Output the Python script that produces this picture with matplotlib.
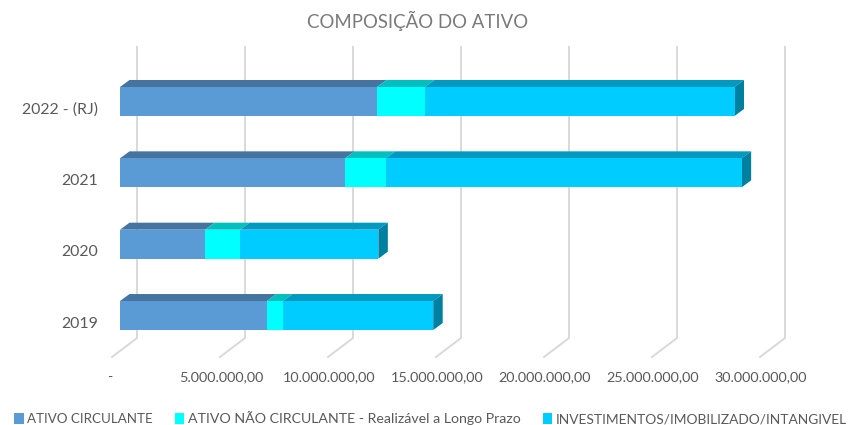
import matplotlib
matplotlib.use("Agg")
import matplotlib.pyplot as plt
from matplotlib.patches import Polygon, Patch
from matplotlib.transforms import ScaledTranslation

categories = ["2019", "2020", "2021", "2022 - (RJ)"]
circulante = [6.80e6, 3.94e6, 10.42e6, 11.90e6]
nao_circulante = [0.75e6, 1.62e6, 1.89e6, 2.22e6]
investimentos = [6.95e6, 6.40e6, 16.47e6, 14.33e6]
series_names = ["ATIVO CIRCULANTE", "ATIVO NÃO CIRCULANTE - Realizável a Longo Prazo",
                "INVESTIMENTOS/IMOBILIZADO/INTANGIVEL"]
xticks = [0, 5e6, 10e6, 15e6, 20e6, 25e6, 30e6]
xticklabels = ["-", "5.000.000,00", "10.000.000,00", "15.000.000,00",
               "20.000.000,00", "25.000.000,00", "30.000.000,00"]
title = "COMPOSIÇÃO DO ATIVO"

front = ["#5B9BD5", "#00FFFF", "#00CCFF"]
top = ["#4574A0", "#00BFBF", "#0099BF"]
side = "#0080A0"
FONT = "Lato"
TXT = "#595959"
W, H = 848, 425

fig = plt.figure(figsize=(W / 100, H / 100), dpi=100, facecolor="white")
ax = fig.add_axes([120 / W, 1 - 338 / H, 648 / W, 291 / H])
ax.set_xlim(0, 30e6)
ax.set_ylim(-0.315, 3.764)
for s in ax.spines.values():
    s.set_visible(False)
ax.patch.set_alpha(0)

px_x = 30e6 / 648
px_y = (3.764 + 0.315) / 291
bar_h = 29 * px_y
dx, dy = 9.5 * px_x, 7 * px_y

# gridlines: back wall and diagonal floor segment
for v in xticks:
    ax.plot([v + 17 * px_x, v + 17 * px_x, v - 8 * px_x], [3.764, -0.315, -0.315 - 19 * px_y],
            color="#D9D9D9", lw=1.4, clip_on=False, zorder=1, solid_joinstyle="miter")

ypos = list(range(len(categories)))
left = [0.0] * len(categories)
for vals, fc, tc in zip([circulante, nao_circulante, investimentos], front, top):
    ax.barh(ypos, vals, left=left, height=bar_h, color=fc, edgecolor="none", zorder=3)
    for y, l, v in zip(ypos, left, vals):
        t = y + bar_h / 2
        ax.add_patch(Polygon([(l, t), (l + v, t), (l + v + dx, t + dy), (l + dx, t + dy)],
                             closed=True, fc=tc, ec="none", zorder=2.5))
    left = [a + b for a, b in zip(left, vals)]
for y, r in zip(ypos, left):
    t, b = y + bar_h / 2, y - bar_h / 2
    ax.add_patch(Polygon([(r, b), (r, t), (r + dx, t + dy), (r + dx, b + dy)],
                         closed=True, fc=side, ec="none", zorder=2.5))

ax.set_yticks(ypos, categories, fontfamily=FONT, fontsize=11.4, color=TXT)
ax.set_xticks(xticks, xticklabels, fontfamily=FONT, fontsize=10.4, color=TXT)
ax.tick_params(length=0)
ax.tick_params(axis="y", pad=16)
ax.tick_params(axis="x", pad=24)
shift_x = ScaledTranslation(-7 / 100, 0, fig.dpi_scale_trans)
for lab in ax.get_xticklabels():
    lab.set_transform(lab.get_transform() + shift_x)
first = ax.get_xticklabels()[0]
first.set_transform(first.get_transform() + ScaledTranslation(-3 / 100, 0, fig.dpi_scale_trans))
shift_y = ScaledTranslation(0, -6.5 / 100, fig.dpi_scale_trans)
for lab in ax.get_yticklabels():
    lab.set_transform(lab.get_transform() + shift_y)

fig.text(418 / W, 1 - 20.5 / H, title, ha="center", va="center", family=FONT,
         fontsize=13.4, color="#7A7A7A")

handles = [Patch(fc=c, ec="none") for c in front]
leg = fig.legend(handles, series_names, loc="lower left", bbox_to_anchor=(11 / W, -3 / H), ncols=3,
                 frameon=False, prop={"family": FONT, "size": 9.8}, labelcolor=TXT,
                 handlelength=0.72, handleheight=0.9, handletextpad=0.25, columnspacing=1.62,
                 borderpad=0.2, borderaxespad=0)
for txt, size in zip(leg.get_texts(), [9.6, 10.15, 9.95]):
    txt.set_fontsize(size)

fig.savefig("out.png", dpi=100)
